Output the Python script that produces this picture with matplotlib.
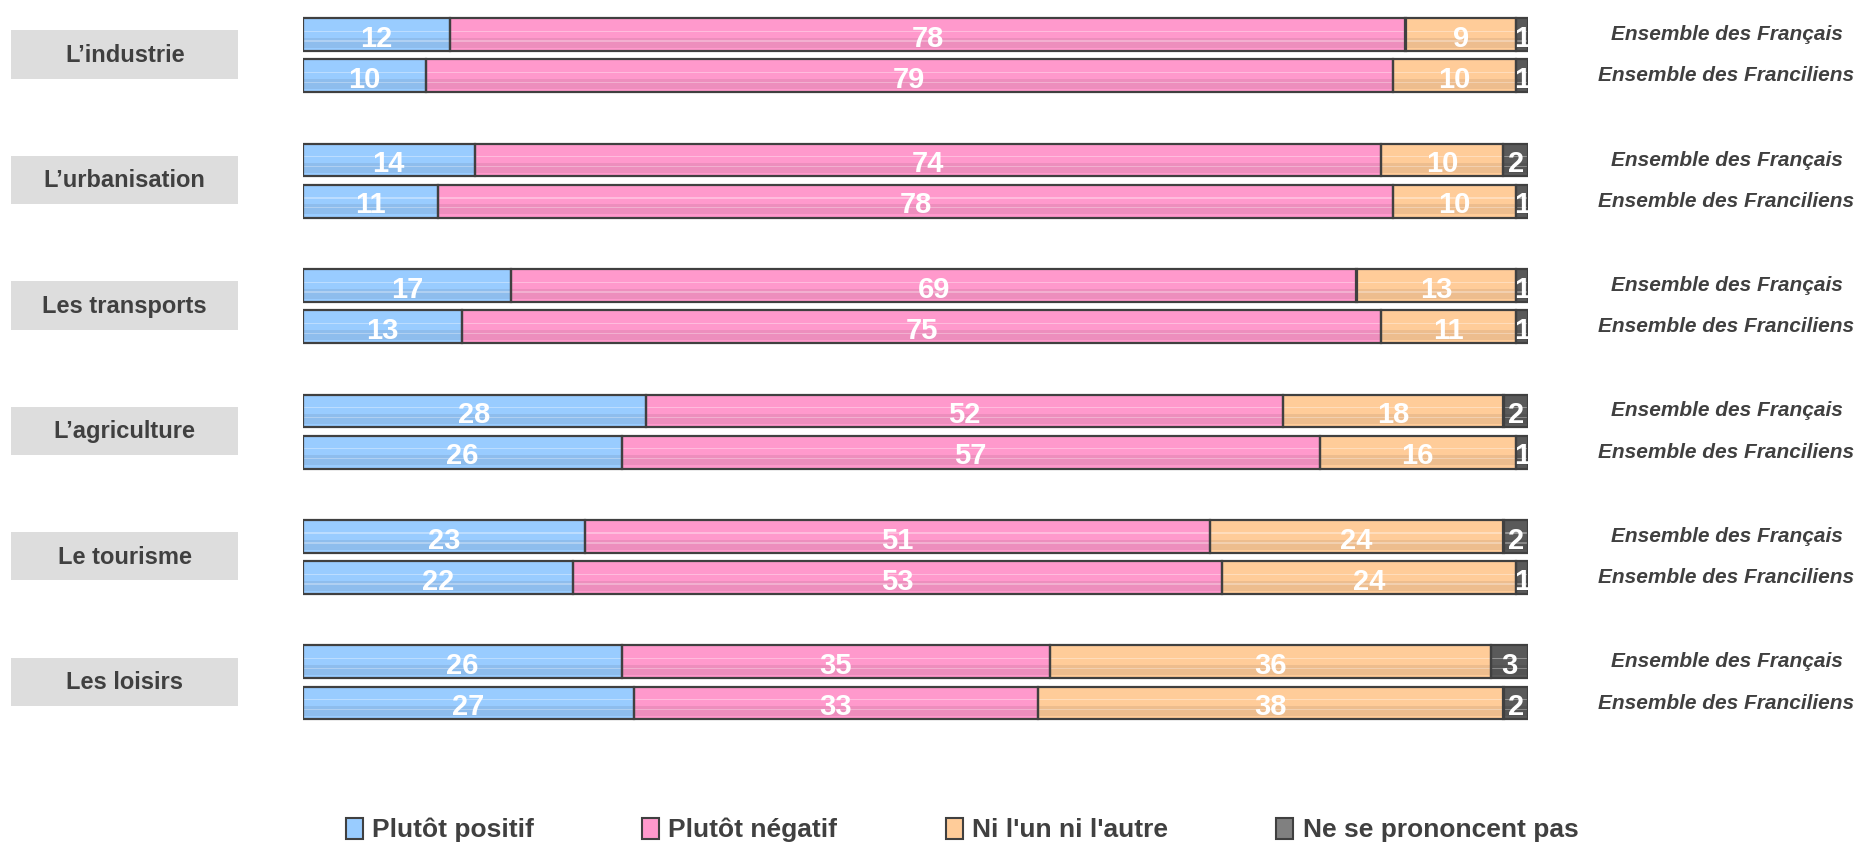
import matplotlib.pyplot as plt
from matplotlib.patches import Rectangle, Patch
import numpy as np

plt.rcParams['font.family'] = ['Liberation Sans', 'DejaVu Sans']

# ---------- données ----------
themes = ["L\u2019industrie", "L\u2019urbanisation", "Les transports",
          "L\u2019agriculture", "Le tourisme", "Les loisirs"]
populations = ["Ensemble des Français", "Ensemble des Franciliens"]
reponses = ["Plutôt positif", "Plutôt négatif", "Ni l'un ni l'autre", "Ne se prononcent pas"]

positif_fr = [12, 14, 17, 28, 23, 26]
negatif_fr = [78, 74, 69, 52, 51, 35]
ni_fr = [9, 10, 13, 18, 24, 36]
nsp_fr = [1, 2, 1, 2, 2, 3]

positif_idf = [10, 11, 13, 26, 22, 27]
negatif_idf = [79, 78, 75, 57, 53, 33]
ni_idf = [10, 10, 11, 16, 24, 38]
nsp_idf = [1, 1, 1, 1, 1, 2]

couleurs = ['#99ccff', '#ff99cc', '#ffcc99', '#5a5a5a']
couleurs_legende = ['#99ccff', '#ff99cc', '#ffcc99', '#808080']
gris_texte = '#404040'

fig = plt.figure(figsize=(18.65, 8.42), dpi=100)
ax = fig.add_axes([303 / 1865, 1 - 737.6 / 842, 1225 / 1865, 737.6 / 842])

pas_groupe = 3.05
haut = 0.8
series_fr = np.array([positif_fr, negatif_fr, ni_fr, nsp_fr])
series_idf = np.array([positif_idf, negatif_idf, ni_idf, nsp_idf])

for g, theme in enumerate(themes):
    for k, series in enumerate([series_fr, series_idf]):
        y = g * pas_groupe + k
        gauche = 0
        for s in range(4):
            v = series[s, g]
            ax.barh(y, v, left=gauche, height=haut, color=couleurs[s],
                    edgecolor='none', zorder=2)
            # effet cylindre : bas plus sombre, reflets clairs
            ax.barh(y + haut * 0.25, v, left=gauche, height=haut * 0.3,
                    color='black', alpha=0.07, edgecolor='none', zorder=3)
            ax.barh(y - haut * 0.1, v, left=gauche, height=haut * 0.04,
                    color='white', alpha=0.35, edgecolor='none', zorder=3)
            ax.barh(y + haut * 0.2, v, left=gauche, height=haut * 0.04,
                    color='white', alpha=0.3, edgecolor='none', zorder=3)
            ax.barh(y, v, left=gauche, height=haut, fill=False,
                    edgecolor=gris_texte, linewidth=1.6, zorder=4)
            ax.text(gauche + v / 2, y + 0.1, str(v), ha='center', va='center',
                    color='white', fontsize=21, fontweight='bold', zorder=5)
            gauche += v
        ax.text(116.2, y, populations[k], ha='center', va='center',
                fontsize=15, fontweight='bold', style='italic',
                color=gris_texte, clip_on=False)
    yc = g * pas_groupe + 0.5
    ax.add_patch(Rectangle((-23.8, yc - 0.6), 18.5, 1.17, facecolor='#dddddd',
                           edgecolor='none', clip_on=False))
    ax.text(-14.55, yc, theme, ha='center', va='center', fontsize=17,
            fontweight='bold', color=gris_texte, clip_on=False)

ax.set_xlim(0, 100)
ax.set_ylim(5 * pas_groupe + 1 + 0.84, -0.84)
ax.axis('off')

handles = [Patch(facecolor=c, edgecolor=gris_texte, linewidth=1.5) for c in couleurs_legende]
fig.legend(handles, reponses, loc='center', bbox_to_anchor=(962 / 1865, 1 - 830 / 842),
           ncol=4, frameon=False, handlelength=0.65, handleheight=0.85, handletextpad=0.35,
           columnspacing=4.1, prop={'size': 19, 'weight': 'bold'}, labelcolor=gris_texte)

fig.savefig('out.png', dpi=100)
